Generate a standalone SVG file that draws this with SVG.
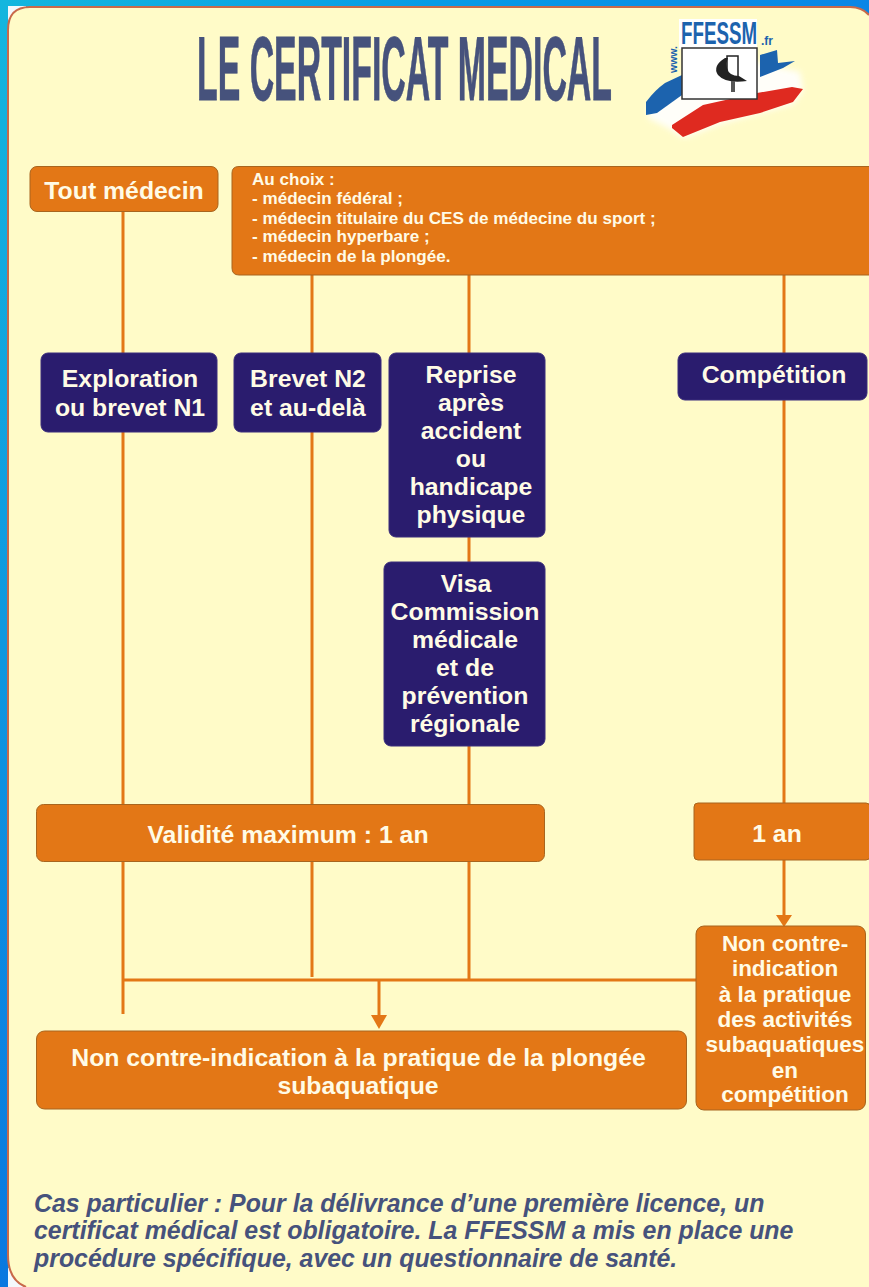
<svg xmlns="http://www.w3.org/2000/svg" width="869" height="1287" viewBox="0 0 869 1287">
<style>
text{font-family:"Liberation Sans",Arial,sans-serif;font-weight:700}
.o{fill:#e37716;stroke:#a8651e;stroke-width:1}
.n{fill:#2a1c6e;stroke:#3a2d7c;stroke-width:1}
.t{fill:#fffbe6;font-size:24.800px;text-anchor:middle}
.s{fill:#fffbe6;font-size:22.500px;text-anchor:middle}
.c{fill:#fffbe6;font-size:17.100px}
.l{stroke:#e37716;stroke-width:3;fill:none}
.i{fill:#46527c;font-size:24.900px;font-style:italic}
.f{fill:#1c63ae}
</style>
<defs>
<linearGradient id="bg" x1="0" y1="0" x2="1" y2="0"><stop offset="0" stop-color="#14b6de"/><stop offset="0.5" stop-color="#089be6"/><stop offset="1" stop-color="#0a86e6"/></linearGradient>
<linearGradient id="bl" x1="0" y1="0" x2="0" y2="1"><stop offset="0" stop-color="#14b6de"/><stop offset="1" stop-color="#0a78e0"/></linearGradient>
<filter id="glow" x="-10%" y="-10%" width="120%" height="120%"><feGaussianBlur stdDeviation="3"/></filter>
</defs>
<rect width="869" height="1287" fill="url(#bg)"/>
<rect x="0" y="0" width="8" height="1287" fill="url(#bl)"/>
<rect x="8" y="6" width="18" height="18" fill="#f4f8fc"/>
<rect x="8" y="1268" width="20" height="19" fill="#f4f8fc"/>
<g id="panel">
<path d="M30,7 H850 Q862,7 869,15 V1287 H26 Q8,1280 8,1255 V30 Q8,7 30,7 Z" fill="#fffbc8"/>
<path d="M869,15 Q862,7 850,7 H30 Q8,7 8,30 V1255 Q8,1280 26,1287" fill="none" stroke="#c9694a" stroke-width="2"/>
</g>
<text id="title" x="197" y="100" font-size="91" textLength="415" lengthAdjust="spacingAndGlyphs" fill="#46527c" stroke="#46527c" stroke-width="0.800">LE CERTIFICAT MEDICAL</text>
<g id="logo">
<path d="M648,104 L682,80 L757,62 L800,72 L803,90 L793,104 L720,124 L684,138 L668,128 L648,118 Z" fill="#fff" opacity="0.9" filter="url(#glow)"/>
<path d="M646,102 Q655,90 665,83 L682,75 L682,95 L657,113 L646,115 Z" class="f"/>
<path d="M760,55 L777,50 L778,63 L795,61 L783,68 L760,77 Z" class="f"/>
<path d="M672,125 L703,105 L757,93 L792,87 L803,89 L793,102 L760,113 L720,122 L683,137 L672,128 Z" fill="#df2a20"/>
<rect x="679" y="19" width="78" height="30" fill="#fff"/>
<rect x="682" y="48" width="75" height="51" fill="#fff" stroke="#333" stroke-width="1.500"/>
<rect x="727" y="56" width="11" height="21" fill="#fff" stroke="#222" stroke-width="1.500"/>
<path d="M725,58 Q712,66 718,75 Q726,84 747,81 L739,76 Q729,76 727,68 Q726,62 728,58 Z" fill="#222"/>
<rect x="731" y="81" width="4" height="11" fill="#555"/>
<text transform="translate(681,44) scale(0.586,1)" font-size="32" fill="#1c63ae">FFESSM</text>
<text x="761" y="45" font-size="12" fill="#1c63ae">.fr</text>
<text transform="translate(677,73) rotate(-90)" font-size="10.500" fill="#1c63ae">www.</text>
</g>
<g id="connectors">
<path class="l" d="M123,212 V1014"/>
<path class="l" d="M312,275 V977"/>
<path class="l" d="M469,275 V980"/>
<path class="l" d="M784,275 V803"/>
<path class="l" d="M123,980 H696"/>
<path class="l" d="M784,860 V916"/>
<path class="l" d="M379,980 V1016"/>
<path d="M776,915 H792 L784,927 Z" fill="#e37716"/>
<path d="M371,1015 H387 L379,1029 Z" fill="#e37716"/>
</g>
<g id="tout"><rect class="o" x="30" y="166.500" width="188" height="45" rx="7"/><text class="t" x="124" y="199">Tout médecin</text></g>
<g id="choix"><path class="o" d="M239,166.500 H870 V275 H239 Q232,275 232,268 V173 Q232,166.500 239,166.500 Z"/>
<text class="c" x="252" y="185">Au choix :</text>
<text class="c" x="252" y="204">- médecin fédéral ;</text>
<text class="c" x="252" y="224">- médecin titulaire du CES de médecine du sport ;</text>
<text class="c" x="252" y="242">- médecin hyperbare ;</text>
<text class="c" x="252" y="262">- médecin de la plongée.</text></g>
<g id="explo"><rect class="n" x="41" y="353" width="176" height="79" rx="7"/><text class="t" x="130" y="387">Exploration</text><text class="t" x="130" y="416">ou brevet N1</text></g>
<g id="n2"><rect class="n" x="234" y="353" width="147" height="79" rx="7"/><text class="t" x="308" y="387">Brevet N2</text><text class="t" x="308" y="416">et au-delà</text></g>
<g id="reprise"><rect class="n" x="389" y="353" width="156" height="184" rx="7"/>
<text class="t" x="471" y="383">Reprise</text><text class="t" x="471" y="411">après</text><text class="t" x="471" y="439">accident</text><text class="t" x="471" y="467">ou</text><text class="t" x="471" y="495">handicape</text><text class="t" x="471" y="523">physique</text></g>
<g id="visa"><rect class="n" x="384" y="562" width="161" height="184" rx="7"/>
<text class="t" x="466" y="592">Visa</text><text class="t" x="465" y="620">Commission</text><text class="t" x="465" y="648">médicale</text><text class="t" x="465" y="676">et de</text><text class="t" x="465" y="704">prévention</text><text class="t" x="465" y="732">régionale</text></g>
<g id="comp"><rect class="n" x="678" y="353" width="189" height="47" rx="7"/><text class="t" x="774" y="383">Compétition</text></g>
<g id="validite"><rect class="o" x="36.500" y="804.500" width="508" height="57" rx="7"/><text class="t" x="288" y="843">Validité maximum : 1 an</text></g>
<g id="unan"><rect class="o" x="694" y="803" width="176" height="57" rx="4"/><text class="t" x="777" y="842">1 an</text></g>
<g id="nci1"><rect class="o" x="36.500" y="1031" width="650" height="78" rx="8"/><text class="t" x="358.500" y="1066">Non contre-indication à la pratique de la plongée</text><text class="t" x="358" y="1094">subaquatique</text></g>
<g id="nci2"><rect class="o" x="696" y="926" width="169.500" height="184" rx="8"/>
<text class="s" x="785" y="951">Non contre-</text><text class="s" x="785" y="976">indication</text><text class="s" x="785" y="1002">à la pratique</text><text class="s" x="785" y="1027">des activités</text><text class="s" x="785" y="1052">subaquatiques</text><text class="s" x="785" y="1078">en</text><text class="s" x="785" y="1102">compétition</text></g>
<g id="note">
<text class="i" x="34" y="1212">Cas particulier : Pour la délivrance d’une première licence, un</text>
<text class="i" x="34" y="1239">certificat médical est obligatoire. La FFESSM a mis en place une</text>
<text class="i" x="34" y="1267">procédure spécifique, avec un questionnaire de santé.</text>
</g>
</svg>
